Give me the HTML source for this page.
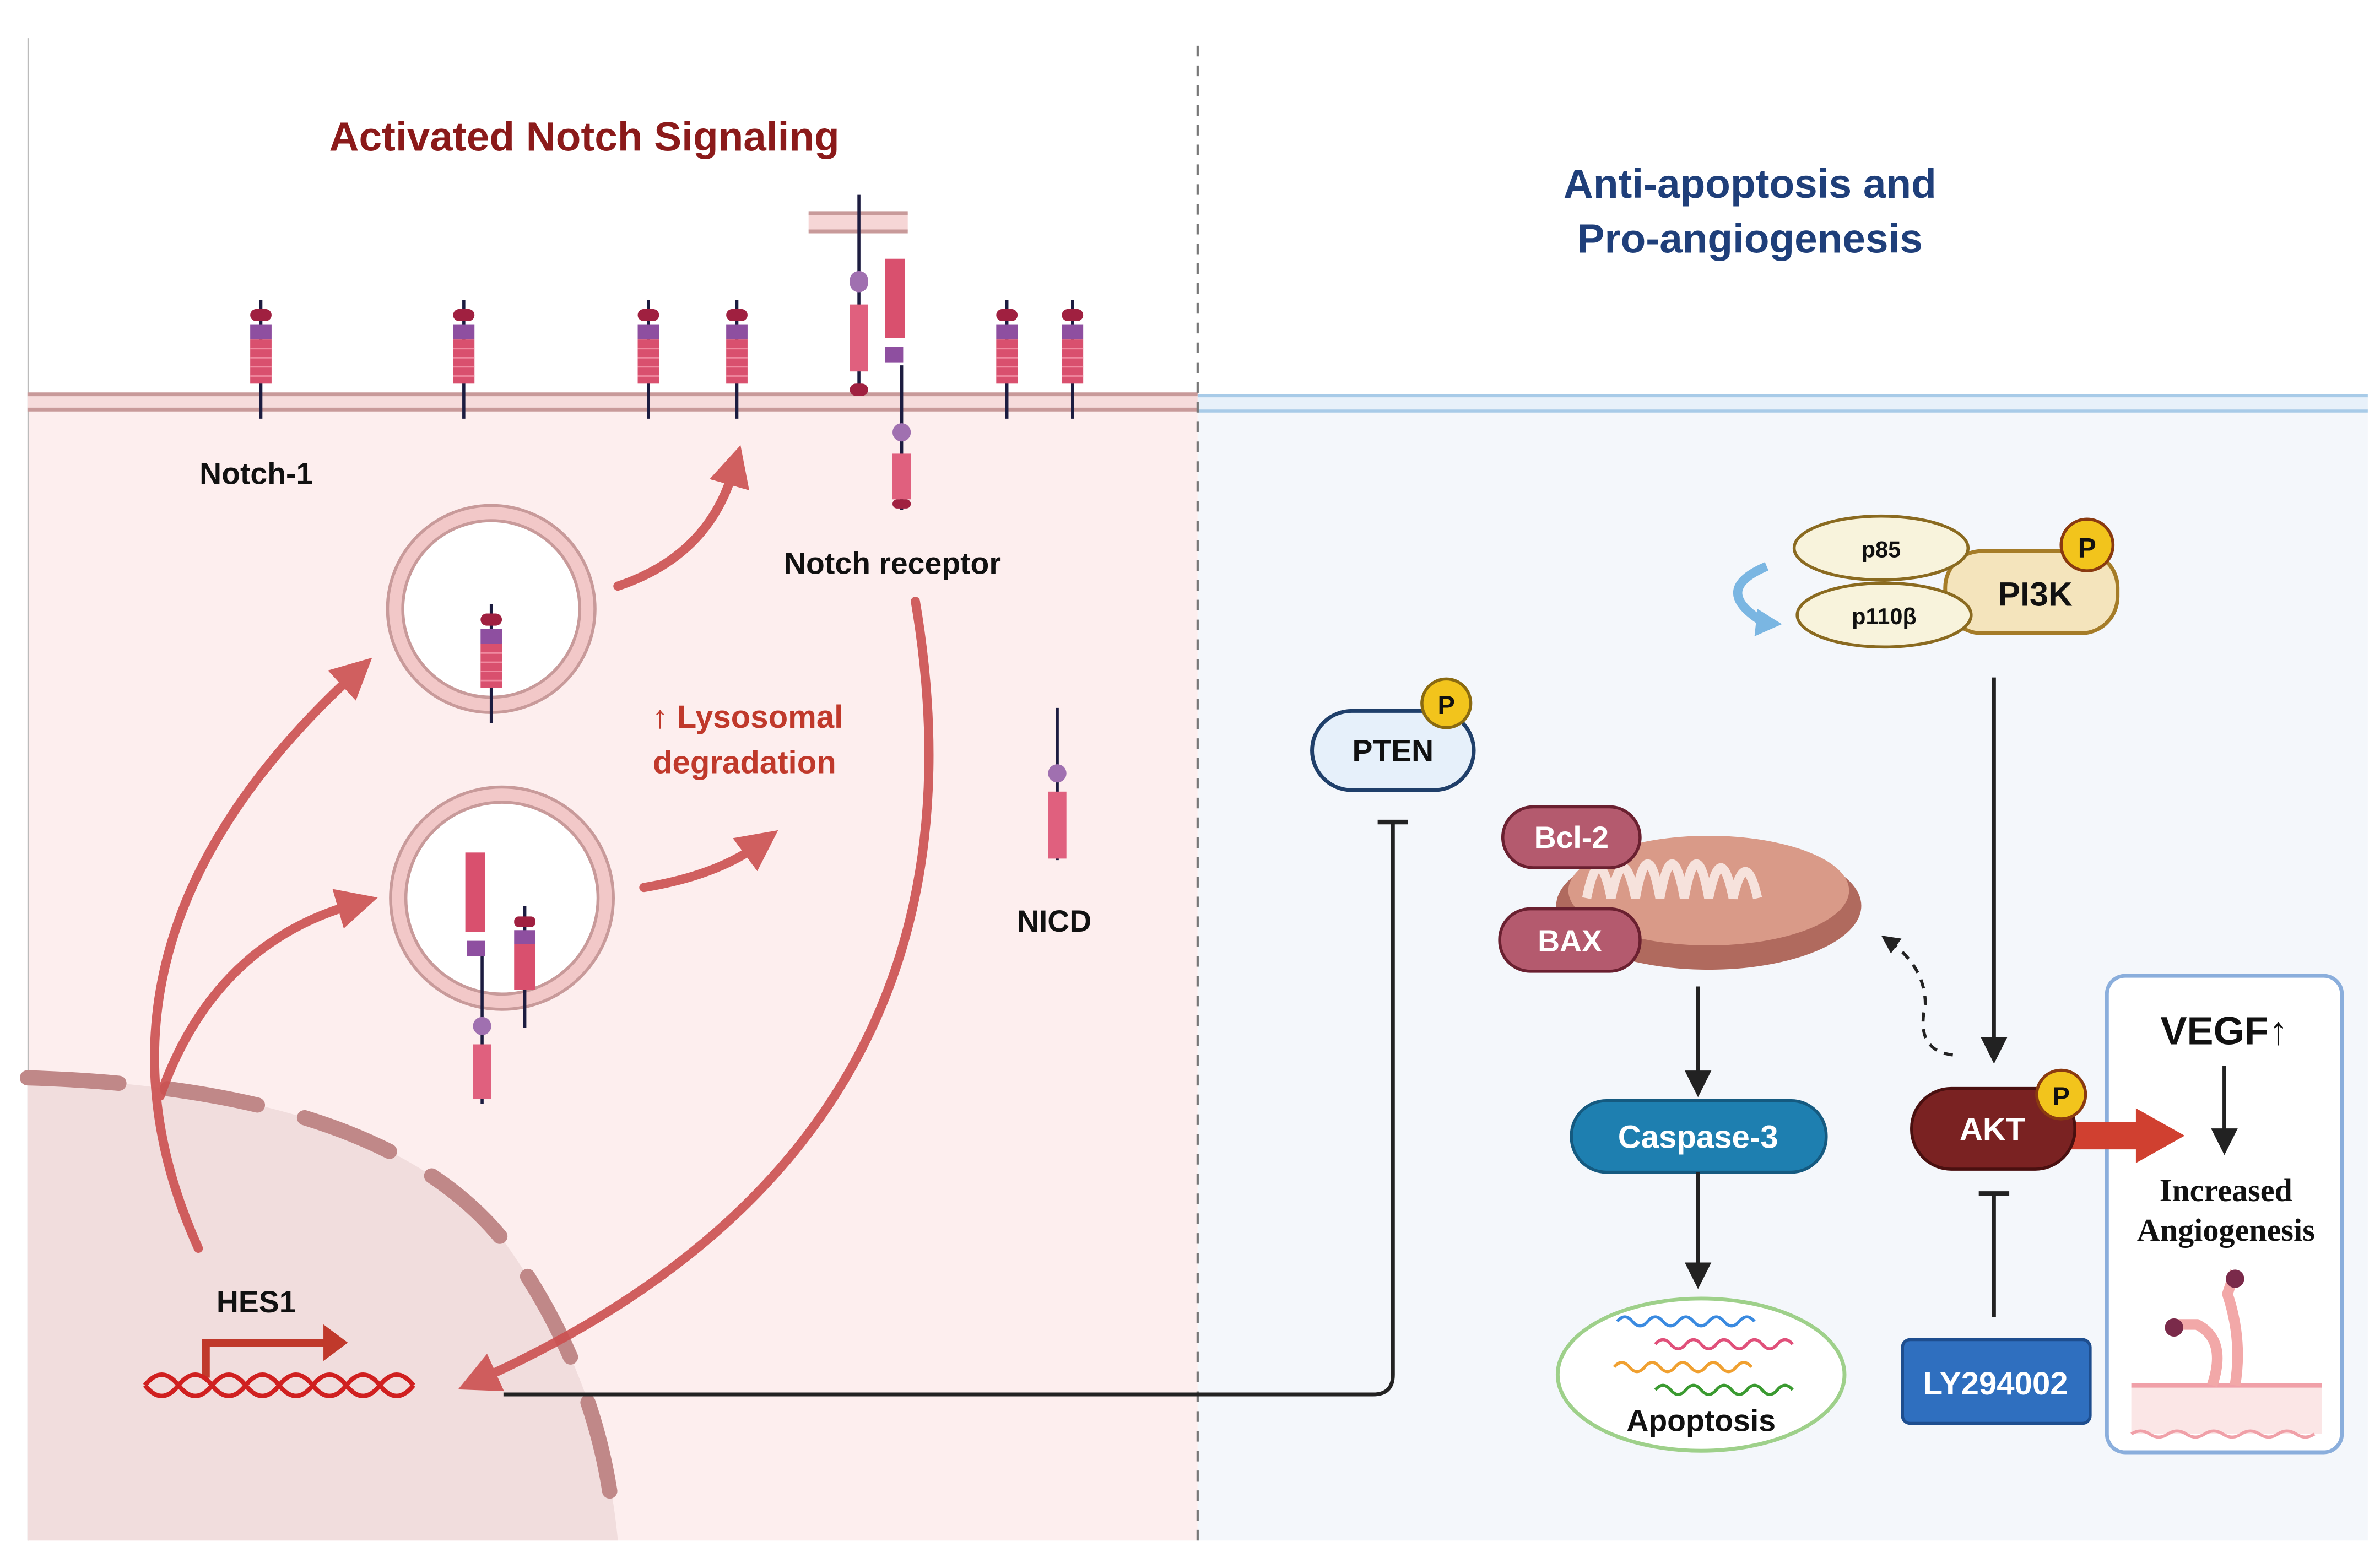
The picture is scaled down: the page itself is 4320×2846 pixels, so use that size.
<!DOCTYPE html>
<html><head><meta charset="utf-8"><style>
html,body{margin:0;padding:0;background:#fff}
svg{display:block}
text{font-family:"Liberation Sans",sans-serif;font-weight:bold}
</style></head><body>
<svg width="4320" height="2846" viewBox="0 0 1560 1030" preserveAspectRatio="none" xmlns="http://www.w3.org/2000/svg">
<defs>
<g id="rec">
<line x1="0" y1="197" x2="0" y2="275" stroke="#1c1c40" stroke-width="2"/>
<rect x="-7" y="203" width="14" height="8" rx="4" fill="#a02040"/>
<rect x="-7" y="213" width="14" height="10" fill="#8e4fa0"/>
<rect x="-7" y="223" width="14" height="29" fill="#d9506e"/>
<path d="M-7,229h14M-7,235h14M-7,241h14M-7,247h14" stroke="#f08aa0" stroke-width="1"/>
</g>
<marker id="ah" viewBox="0 0 10 10" refX="5" refY="5" markerWidth="7" markerHeight="7" orient="auto"><path d="M0,0L10,5L0,10z" fill="#222"/></marker>
<marker id="rh" viewBox="0 0 10 10" refX="4" refY="5" markerWidth="4.5" markerHeight="4.5" orient="auto"><path d="M0,0L10,5L0,10z" fill="#cc5050"/></marker>
<marker id="dh" viewBox="0 0 10 10" refX="5" refY="5" markerWidth="6" markerHeight="6" orient="auto"><path d="M0,0L10,5L0,10z" fill="#222"/></marker>
</defs>
<rect width="1560" height="1030" fill="#fff"/>
<rect x="18" y="268" width="767" height="744" fill="#fdeeee"/>
<line x1="18.5" y1="25" x2="18.5" y2="1012" stroke="#bbb" stroke-width="1"/>
<rect x="785" y="268" width="767" height="744" fill="#f4f7fb"/>
<rect x="18" y="258" width="767" height="12" fill="#f6dcdc"/>
<line x1="18" y1="259" x2="785" y2="259" stroke="#c89a9a" stroke-width="2.5"/>
<line x1="18" y1="269" x2="785" y2="269" stroke="#c89a9a" stroke-width="2.5"/>
<rect x="785" y="259" width="767" height="11" fill="#e8f1fa"/>
<line x1="785" y1="260" x2="1552" y2="260" stroke="#a8cbe8" stroke-width="2"/>
<line x1="785" y1="270" x2="1552" y2="270" stroke="#a8cbe8" stroke-width="2"/>
<line x1="785" y1="30" x2="785" y2="1012" stroke="#777" stroke-width="1.5" stroke-dasharray="7,6"/>
<text x="383" y="99" font-size="27" fill="#8b1a1a" text-anchor="middle">Activated Notch Signaling</text>
<text x="1147" y="130" font-size="27" fill="#1f3f7a" text-anchor="middle">Anti-apoptosis and</text>
<text x="1147" y="166" font-size="27" fill="#1f3f7a" text-anchor="middle">Pro-angiogenesis</text>
<use href="#rec" x="171"/><use href="#rec" x="304"/><use href="#rec" x="425"/><use href="#rec" x="483"/><use href="#rec" x="660"/><use href="#rec" x="703"/>
<rect x="530" y="140" width="65" height="12" fill="#f6d6d6"/>
<line x1="530" y1="140" x2="595" y2="140" stroke="#c89a9a" stroke-width="2.5"/>
<line x1="530" y1="152" x2="595" y2="152" stroke="#c89a9a" stroke-width="2.5"/>
<line x1="563" y1="128" x2="563" y2="260" stroke="#1c1c40" stroke-width="2"/>
<rect x="557" y="178" width="12" height="14" rx="6" fill="#a070b0"/>
<rect x="557" y="200" width="12" height="44" fill="#e0607e"/>
<rect x="557" y="252" width="12" height="8" rx="4" fill="#a02040"/>
<rect x="580" y="170" width="13" height="52" fill="#d9506e"/>
<rect x="580" y="228" width="12" height="10" fill="#8e4fa0"/>
<line x1="591" y1="240" x2="591" y2="335" stroke="#1c1c40" stroke-width="2"/>
<rect x="585" y="278" width="12" height="12" rx="6" fill="#a070b0"/>
<rect x="585" y="298" width="12" height="30" fill="#e0607e"/>
<rect x="585" y="328" width="12" height="6" rx="3" fill="#a02040"/>
<text x="168" y="318" font-size="20" fill="#111" text-anchor="middle">Notch-1</text>
<text x="585" y="377" font-size="20" fill="#111" text-anchor="middle">Notch receptor</text>
<text x="691" y="612" font-size="20" fill="#111" text-anchor="middle">NICD</text>
<text x="490" y="478" font-size="21" fill="#c0392b" text-anchor="middle">↑ Lysosomal</text>
<text x="488" y="508" font-size="21" fill="#c0392b" text-anchor="middle">degradation</text>
<line x1="693" y1="465" x2="693" y2="565" stroke="#1c1c40" stroke-width="2"/>
<rect x="687" y="502" width="12" height="12" rx="6" fill="#a070b0"/>
<rect x="687" y="520" width="12" height="44" fill="#e0607e"/>
<circle cx="322" cy="400" r="63" fill="#fff" stroke="#f2c8c8" stroke-width="10"/>
<circle cx="322" cy="400" r="68" fill="none" stroke="#c89a9a" stroke-width="2"/>
<circle cx="322" cy="400" r="58" fill="none" stroke="#c89a9a" stroke-width="2"/>
<use href="#rec" x="322" y="200"/>
<circle cx="329" cy="590" r="68" fill="#fff" stroke="#f2c8c8" stroke-width="10"/>
<circle cx="329" cy="590" r="73" fill="none" stroke="#c89a9a" stroke-width="2"/>
<circle cx="329" cy="590" r="63" fill="none" stroke="#c89a9a" stroke-width="2"/>
<rect x="305" y="560" width="13" height="52" fill="#d9506e"/>
<rect x="306" y="618" width="12" height="10" fill="#8e4fa0"/>
<line x1="316" y1="628" x2="316" y2="725" stroke="#1c1c40" stroke-width="2"/>
<rect x="310" y="668" width="12" height="12" rx="6" fill="#a070b0"/>
<rect x="310" y="686" width="12" height="36" fill="#e0607e"/>
<line x1="344" y1="595" x2="344" y2="675" stroke="#1c1c40" stroke-width="2"/>
<rect x="337" y="602" width="14" height="7" rx="3" fill="#a02040"/>
<rect x="337" y="611" width="14" height="9" fill="#8e4fa0"/>
<rect x="337" y="620" width="14" height="30" fill="#d9506e"/>
<path d="M18,708 Q250,715 330,815 Q395,905 405,1012 L18,1012Z" fill="#f1dddd"/>
<path d="M18,708 Q250,715 330,815 Q395,905 403,1008" fill="none" stroke="#c08888" stroke-width="10" stroke-dasharray="60,32" stroke-linecap="round"/>
<g fill="none" stroke="#cc5050" stroke-width="6" stroke-linecap="round" opacity="0.9">
<path d="M130,820 Q40,620 232,443" marker-end="url(#rh)"/>
<path d="M105,720 Q140,620 232,594" marker-end="url(#rh)"/>
<path d="M405,385 Q465,365 481,308" marker-end="url(#rh)"/>
<path d="M422,583 Q470,575 497,555" marker-end="url(#rh)"/>
<path d="M600,395 Q660,750 315,906" marker-end="url(#rh)"/>
</g>
<text x="168" y="862" font-size="20" fill="#111" text-anchor="middle">HES1</text>
<path d="M135,905 V882 H215" fill="none" stroke="#c0392b" stroke-width="5"/>
<path d="M212,870 L228,882 L212,894Z" fill="#c0392b"/>
<path d="M95,910 q11,-14 22,0 t22,0 t22,0 t22,0 t22,0 t22,0 t22,0 t22,0" fill="none" stroke="#d02020" stroke-width="3"/>
<path d="M95,910 q11,14 22,0 t22,0 t22,0 t22,0 t22,0 t22,0 t22,0 t22,0" fill="none" stroke="#d02020" stroke-width="3"/>
<path d="M330,916 H900 Q913,916 913,903 V540" fill="none" stroke="#222" stroke-width="2.5"/>
<line x1="903" y1="540" x2="923" y2="540" stroke="#222" stroke-width="3"/>
<rect x="860" y="467" width="106" height="52" rx="26" fill="#e6f0fa" stroke="#1f3f6a" stroke-width="2.5"/>
<text x="913" y="500" font-size="20" fill="#111" text-anchor="middle">PTEN</text>
<circle cx="948" cy="462" r="16" fill="#f2c41c" stroke="#8a6a10" stroke-width="2"/>
<text x="948" y="469" font-size="17" fill="#111" text-anchor="middle">P</text>
<rect x="1275" y="362" width="113" height="54" rx="24" fill="#f4e4bc" stroke="#a57c28" stroke-width="2.5"/>
<text x="1334" y="398" font-size="22" fill="#111" text-anchor="middle">PI3K</text>
<ellipse cx="1233" cy="360" rx="57" ry="21" fill="#f8f3dc" stroke="#8a6a20" stroke-width="2"/>
<text x="1233" y="366" font-size="15" fill="#111" text-anchor="middle">p85</text>
<ellipse cx="1235" cy="404" rx="57" ry="21" fill="#f8f3dc" stroke="#8a6a20" stroke-width="2"/>
<text x="1235" y="410" font-size="15" fill="#111" text-anchor="middle">p110β</text>
<circle cx="1368" cy="358" r="17" fill="#f2c41c" stroke="#8a3a10" stroke-width="2"/>
<text x="1368" y="366" font-size="18" fill="#111" text-anchor="middle">P</text>
<path d="M1158,372 Q1120,388 1158,410" fill="none" stroke="#7ab6e2" stroke-width="6"/>
<path d="M1152,400 L1168,410 L1150,418Z" fill="#7ab6e2"/>
<line x1="1307" y1="445" x2="1307" y2="690" stroke="#222" stroke-width="2.5" marker-end="url(#ah)"/>
<ellipse cx="1120" cy="595" rx="100" ry="42" fill="#b06a5e"/>
<ellipse cx="1120" cy="585" rx="92" ry="36" fill="#d99a88"/>
<path d="M1040,590 q8,-40 16,0 q8,-40 16,0 q8,-45 16,0 q8,-45 16,0 q8,-45 16,0 q8,-40 16,0 q8,-35 16,0" fill="none" stroke="#f6e2dc" stroke-width="6"/>
<rect x="985" y="530" width="90" height="40" rx="20" fill="#b45a6e" stroke="#6a2030" stroke-width="2"/>
<text x="1030" y="557" font-size="20" fill="#fff" text-anchor="middle">Bcl-2</text>
<rect x="983" y="597" width="92" height="41" rx="20" fill="#b45a6e" stroke="#6a2030" stroke-width="2"/>
<text x="1029" y="625" font-size="20" fill="#fff" text-anchor="middle">BAX</text>
<path d="M1280,693 Q1255,690 1262,660 Q1262,635 1238,618" fill="none" stroke="#222" stroke-width="2" stroke-dasharray="6,5" marker-end="url(#dh)"/>
<line x1="1113" y1="648" x2="1113" y2="712" stroke="#222" stroke-width="2.5" marker-end="url(#ah)"/>
<rect x="1030" y="723" width="167" height="47" rx="23" fill="#1e7fb0" stroke="#155a80" stroke-width="2"/>
<text x="1113" y="754" font-size="21" fill="#fff" text-anchor="middle">Caspase-3</text>
<line x1="1113" y1="770" x2="1113" y2="838" stroke="#222" stroke-width="2.5" marker-end="url(#ah)"/>
<ellipse cx="1115" cy="903" rx="94" ry="50" fill="#fff" stroke="#9ed08a" stroke-width="2.5"/>
<g fill="none" stroke-width="2">
<path d="M1060,868 q5,-6 10,0 t10,0 t10,0 t10,0 t10,0 t10,0 t10,0 t10,0 t10,0" stroke="#3a8ae0"/>
<path d="M1085,883 q5,-6 10,0 t10,0 t10,0 t10,0 t10,0 t10,0 t10,0 t10,0 t10,0" stroke="#e0507a"/>
<path d="M1058,898 q5,-6 10,0 t10,0 t10,0 t10,0 t10,0 t10,0 t10,0 t10,0 t10,0" stroke="#f0a030"/>
<path d="M1085,913 q5,-6 10,0 t10,0 t10,0 t10,0 t10,0 t10,0 t10,0 t10,0 t10,0" stroke="#3a9a30"/>
</g>
<text x="1115" y="940" font-size="20" fill="#111" text-anchor="middle">Apoptosis</text>
<line x1="1307" y1="865" x2="1307" y2="785" stroke="#222" stroke-width="2.5"/>
<line x1="1297" y1="784" x2="1317" y2="784" stroke="#222" stroke-width="3"/>
<rect x="1247" y="880" width="123" height="55" rx="5" fill="#2f6fbf" stroke="#1e4e8f" stroke-width="2"/>
<text x="1308" y="916" font-size="21" fill="#fff" text-anchor="middle">LY294002</text>
<rect x="1381" y="641" width="154" height="313" rx="12" fill="#fff" stroke="#8aaedc" stroke-width="2.5"/>
<text x="1458" y="686" font-size="26" fill="#111" text-anchor="middle">VEGF↑</text>
<line x1="1458" y1="700" x2="1458" y2="750" stroke="#222" stroke-width="2.5" marker-end="url(#ah)"/>
<text x="1459" y="789" font-size="21" fill="#111" text-anchor="middle" style="font-family:'Liberation Serif',serif">Increased</text>
<text x="1459" y="815" font-size="21" fill="#111" text-anchor="middle" style="font-family:'Liberation Serif',serif">Angiogenesis</text>
<rect x="1397" y="910" width="125" height="32" fill="#fbe6e6"/>
<path d="M1397,910 H1522" stroke="#f0a0a8" stroke-width="3"/>
<path d="M1397,942 q6,-4 12,0 t12,0 t12,0 t12,0 t12,0 t12,0 t12,0 t12,0 t12,0 t12,0" fill="none" stroke="#f0a0a8" stroke-width="2"/>
<path d="M1450,910 Q1460,880 1440,870 L1425,870 M1465,910 Q1470,880 1460,850 L1465,835" fill="none" stroke="#f2a8a8" stroke-width="7"/>
<circle cx="1425" cy="872" r="6" fill="#7a2a4a"/>
<circle cx="1465" cy="840" r="6" fill="#7a2a4a"/>
<!-- AKT on top -->
<path d="M1355,737 H1400 V728 L1432,746 L1400,764 V755 H1355Z" fill="#d04030"/>
<rect x="1253" y="715" width="107" height="53" rx="26" fill="#7a2222" stroke="#4a1010" stroke-width="2"/>
<text x="1306" y="749" font-size="21" fill="#fff" text-anchor="middle">AKT</text>
<circle cx="1351" cy="719" r="16" fill="#f2c41c" stroke="#8a3a10" stroke-width="2"/>
<text x="1351" y="726" font-size="17" fill="#111" text-anchor="middle">P</text>
</svg>
</body></html>
